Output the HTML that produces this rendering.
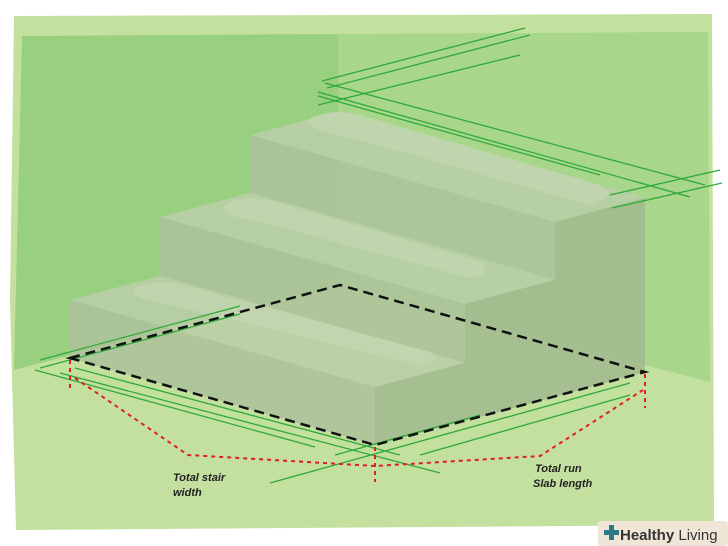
<!DOCTYPE html>
<html><head><meta charset="utf-8"><style>
html,body{margin:0;padding:0;background:#fff;}
svg{display:block}
</style></head><body>
<svg width="728" height="546" viewBox="0 0 728 546" xmlns="http://www.w3.org/2000/svg">
<rect width="728" height="546" fill="#fff"/>
<polygon points="14,16 712,14 714,525 16,530 10,300" fill="#c3e09e"/>
<polygon points="22,36 338,34 338,285 14,370" fill="#98d080"/>
<polygon points="338,34 708,32 710,382 338,285" fill="#a8d78b"/>
<g opacity="0.88">
<polygon points="250,135 340,110.7 645,197.7 555,222" fill="#b9cea7"/>
<polygon points="250,135 555,222 555,397 250,310" fill="#adc39b"/>
<polygon points="555,222 645,197.7 645,372 555,397" fill="#a2bb90"/>
<polygon points="160,217 250,192.7 555,279.7 465,304" fill="#b9cea7"/>
<polygon points="160,217 465,304 465,421 160,334" fill="#adc39b"/>
<polygon points="465,304 555,279.7 555,397 465,421" fill="#a2bb90"/>
<polygon points="70,300 160,275.7 465,362.7 375,387" fill="#b9cea7"/>
<polygon points="70,300 375,387 375,445 70,358" fill="#adc39b"/>
<polygon points="375,387 465,362.7 465,421 375,445" fill="#a2bb90"/>
</g>
<g fill="#c6d9b4" opacity="0.6">
<path d="M310,118 Q330,108 360,115 L600,185 Q620,195 590,205 L360,140 Q300,130 310,118Z"/>
<path d="M225,205 Q240,195 270,200 L480,262 Q495,275 470,278 L260,222 Q215,215 225,205Z"/>
<path d="M135,288 Q150,280 180,284 L430,352 Q445,362 420,365 L170,305 Q125,298 135,288Z"/>
</g>
<g stroke="#2faa3a" stroke-width="1.3" fill="none">
<line x1="322" y1="81" x2="525" y2="28"/>
<line x1="327" y1="88" x2="530" y2="35"/>
<line x1="318" y1="105" x2="520" y2="55"/>
<line x1="325" y1="83" x2="705" y2="185"/>
<line x1="318" y1="92" x2="690" y2="197"/>
<line x1="318" y1="96" x2="600" y2="175"/>
<line x1="610" y1="195" x2="720" y2="170"/>
<line x1="612" y1="208" x2="722" y2="183"/>
<line x1="40" y1="360" x2="240" y2="306"/>
<line x1="40" y1="368" x2="240" y2="314"/>
<line x1="35" y1="370" x2="315" y2="447"/>
<line x1="60" y1="373" x2="440" y2="473"/>
<line x1="75" y1="368" x2="400" y2="455"/>
<line x1="270" y1="483" x2="630" y2="383"/>
<line x1="335" y1="455" x2="480" y2="415"/>
<line x1="420" y1="455" x2="630" y2="395"/>
</g>
<polygon points="70,358 340,285 645,372 375,445" fill="none" stroke="#111" stroke-width="2.5" stroke-dasharray="10,6"/>
<g stroke="#e02020" stroke-width="2" fill="none" stroke-dasharray="4,4">
<line x1="70" y1="360" x2="70" y2="392"/>
<line x1="375" y1="447" x2="375" y2="482"/>
<line x1="645" y1="374" x2="645" y2="408"/>
<polyline points="75,378 188,455 375,466 540,456 643,390"/>
</g>
<g font-family="Liberation Sans, sans-serif" font-style="italic" font-weight="bold" font-size="11" fill="#222">
<text x="173" y="481">Total stair</text>
<text x="173" y="496">width</text>
<text x="535" y="472">Total run</text>
<text x="533" y="487">Slab length</text>
</g>
<rect x="598" y="521" width="130" height="25" rx="3" fill="#efe6d8"/>
<rect x="604" y="530" width="15" height="5" fill="#2a7a8a"/>
<rect x="609" y="525" width="5" height="15" fill="#2a7a8a"/>
<text x="620" y="540" font-family="Liberation Sans, sans-serif" font-size="15" font-weight="bold" fill="#333">Healthy <tspan font-weight="normal">Living</tspan></text>
</svg>
</body></html>
